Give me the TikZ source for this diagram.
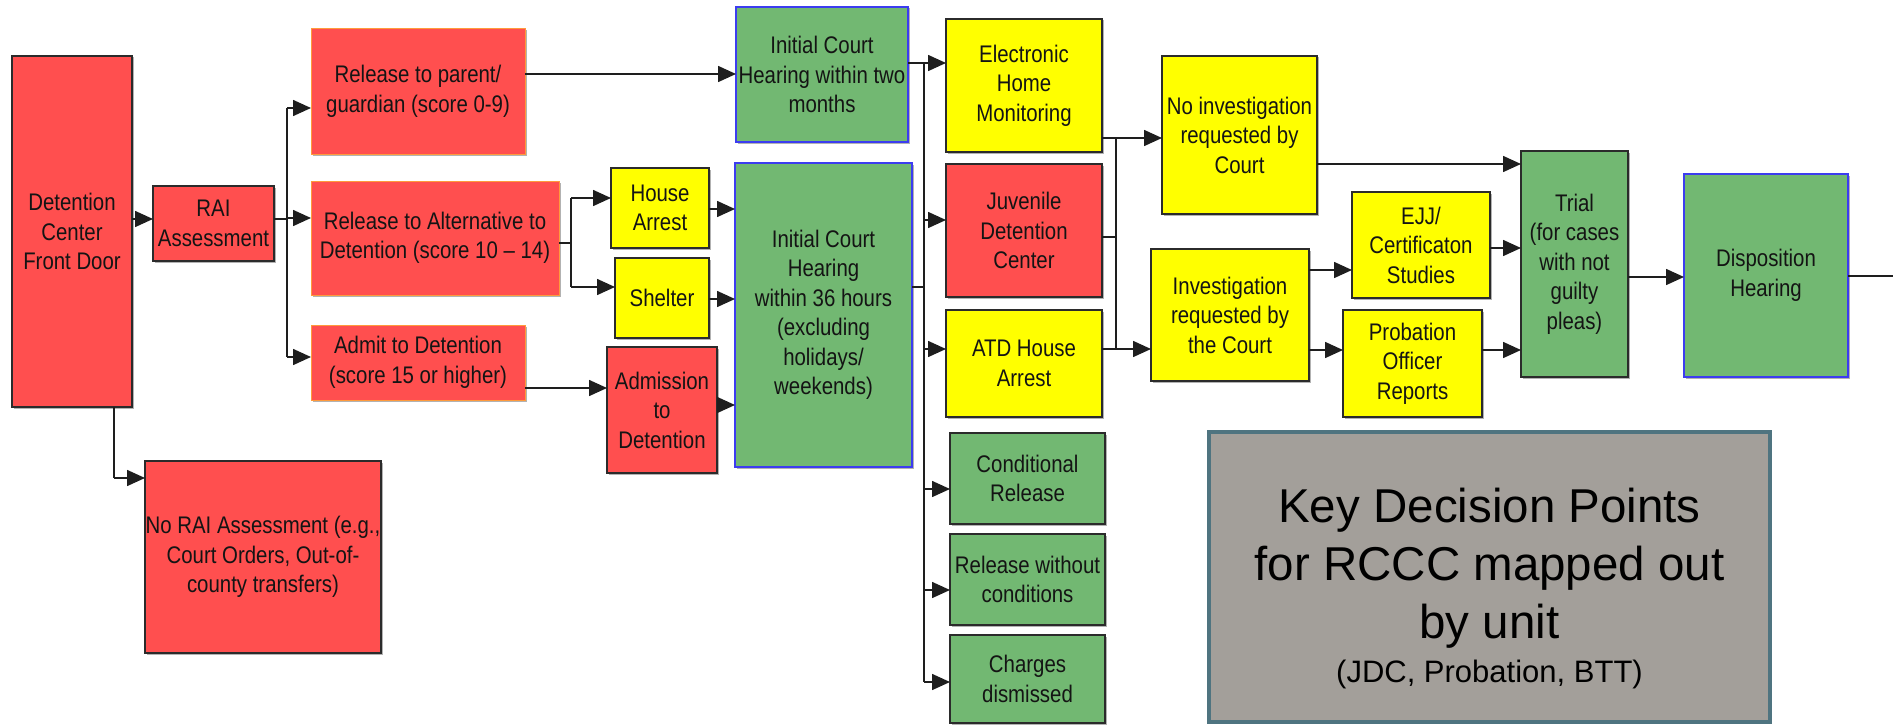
\documentclass[tikz,border=0pt]{standalone}
\usepackage{fontspec}
\setmainfont{Liberation Sans}[FakeStretch=0.85]
\newfontfamily\keyfont{Liberation Sans}
\usetikzlibrary{arrows.meta,shadows}
\definecolor{cred}{HTML}{FF4F4F}
\definecolor{cyel}{HTML}{FFFF00}
\definecolor{cgrn}{HTML}{72B872}
\definecolor{cgray}{HTML}{A39F9A}
\definecolor{ckeyb}{HTML}{4F7480}
\definecolor{corng}{HTML}{FF9A3C}
\definecolor{cblue}{HTML}{3C3CF0}
\definecolor{cdark}{HTML}{2B2B2B}
\definecolor{cline}{HTML}{1E1E1E}
\begin{document}
\begin{tikzpicture}[x=1pt,y=-1pt,
  box/.style={draw=cdark, line width=1.5pt, inner sep=0pt, outer sep=0pt,
    align=center, font=\fontsize{24}{29.5}\selectfont, text=black!92,
    drop shadow={shadow xshift=1.5pt, shadow yshift=-1.5pt, opacity=0.3, fill=black}},
  redbox/.style={box, fill=cred},
  redobox/.style={box, fill=cred, draw=corng, line width=1pt},
  yelbox/.style={box, fill=cyel},
  grnbox/.style={box, fill=cgrn},
  grnbbox/.style={box, fill=cgrn, draw=cblue, line width=1.3pt},
  keybox/.style={draw=ckeyb, line width=4pt, fill=cgray, inner sep=0pt, outer sep=0pt, align=center,
    font=\keyfont\fontsize{47.5}{58}\selectfont},
  arr/.style={draw=cline, line width=1.6pt, -{Triangle[length=18pt,width=16pt]}},
  ln/.style={draw=cline, line width=1.6pt}
]
\useasboundingbox[fill=white] (0,0) rectangle (1893,725);

% nodes
\node[redbox, minimum width=120pt, minimum height=351pt] (fd) at (72,231.5) {Detention\\Center\\Front Door};
\node[redbox, minimum width=121pt, minimum height=75pt] (rai) at (213.5,223.5) {RAI\\Assessment};
\node[redobox, minimum width=214pt, minimum height=125pt] (rp) at (418,91.5) {Release to parent/\\guardian (score 0-9)};
\node[redobox, minimum width=248pt, minimum height=114pt] (ratd) at (435,238) {Release to Alternative to\\Detention (score 10 – 14)};
\node[redobox, minimum width=214pt, minimum height=75pt] (adm) at (418,362.5) {Admit to Detention\\(score 15 or higher)};
\node[yelbox, minimum width=98pt, minimum height=80pt] (ha) at (660,208) {House\\Arrest};
\node[yelbox, minimum width=94pt, minimum height=80pt] (sh) at (662,298) {Shelter};
\node[redbox, minimum width=110pt, minimum height=126pt] (ad2) at (662,410) {Admission\\to\\Detention};
\node[redbox, minimum width=236pt, minimum height=192pt] (nrai) at (263,557) {No RAI Assessment (e.g.,\\Court Orders, Out-of-\\county transfers)};
\node[grnbbox, minimum width=172pt, minimum height=135pt] (ich2) at (822,74.5) {Initial Court\\Hearing within two\\months};
\node[grnbbox, minimum width=177pt, minimum height=304pt] (ich36) at (823.5,315) {Initial Court\\Hearing\\within 36 hours\\(excluding\\holidays/\\weekends)};
\node[yelbox, minimum width=156pt, minimum height=133pt] (ehm) at (1024,85.5) {Electronic\\Home\\Monitoring};
\node[redbox, minimum width=156pt, minimum height=133pt] (jdc) at (1024,230.5) {Juvenile\\Detention\\Center};
\node[yelbox, minimum width=156pt, minimum height=107pt] (atdh) at (1024,363.5) {ATD House\\Arrest};
\node[grnbox, minimum width=155pt, minimum height=91pt] (cr) at (1027.5,478.5) {Conditional\\Release};
\node[grnbox, minimum width=155pt, minimum height=91pt] (rw) at (1027.5,579.5) {Release without\\conditions};
\node[grnbox, minimum width=155pt, minimum height=88pt] (cd) at (1027.5,679) {Charges\\dismissed};
\node[yelbox, minimum width=155pt, minimum height=158pt] (noinv) at (1239.5,135) {No investigation\\requested by\\Court};
\node[yelbox, minimum width=158pt, minimum height=132pt] (inv) at (1230,315) {Investigation\\requested by\\the Court};
\node[yelbox, minimum width=138pt, minimum height=106pt] (ejj) at (1421,245) {EJJ/\\Certificaton\\Studies};
\node[yelbox, minimum width=139pt, minimum height=107pt] (po) at (1412.5,363.5) {Probation\\Officer\\Reports};
\node[grnbox, minimum width=107pt, minimum height=226pt] (trial) at (1574.5,264) {Trial\\(for cases\\with not\\guilty\\pleas)};
\node[grnbbox, minimum width=164pt, minimum height=203pt] (disp) at (1766,275.5) {Disposition\\Hearing};
\node[keybox, minimum width=561pt, minimum height=290pt] (key) at (1489.5,577) {\rule{0pt}{58pt}Key Decision Points\\for RCCC mapped out\\by unit\\[-14pt]{\fontsize{31}{40}\selectfont (JDC, Probation, BTT)}};

% junction coordinates
\coordinate (j1) at (287,219);
\coordinate (j2) at (571,243);
\coordinate (j3) at (924,63);
\coordinate (j4) at (1116,138);
\coordinate (exit) at (1893,276);

% connectors
\draw[arr] (fd.east |- 0,219) -- (rai.west |- 0,219);
\draw[ln] (rai.east |- j1) -- (j1);
\draw[ln] (j1 |- 0,108) -- (j1 |- 0,357);
\draw[arr] (j1 |- 0,108) -- (rp.west |- 0,108);
\draw[arr] (j1 |- 0,218) -- (ratd.west |- 0,218);
\draw[arr] (j1 |- 0,357) -- (adm.west |- 0,357);

\draw[arr] (rp.east |- 0,74) -- (ich2.west |- 0,74);

\draw[ln] (ratd.east |- j2) -- (j2);
\draw[ln] (j2 |- 0,198) -- (j2 |- 0,287);
\draw[arr] (j2 |- 0,198) -- (ha.west |- 0,198);
\draw[arr] (j2 |- 0,287) -- (sh.west |- 0,287);

\draw[arr] (adm.east |- 0,388) -- (ad2.west |- 0,388);

\draw[arr] (ha.east |- 0,209) -- (ich36.west |- 0,209);
\draw[arr] (sh.east |- 0,299) -- (ich36.west |- 0,299);
\draw[arr] (ad2.east |- 0,405) -- (ich36.west |- 0,405);

\draw[ln] (ich2.east |- j3) -- (j3);
\draw[ln] (j3) -- (j3 |- 0,682);
\draw[ln] (ich36.east |- 0,287) -- (j3 |- 0,287);
\draw[arr] (j3) -- (ehm.west |- j3);
\draw[arr] (j3 |- 0,220) -- (jdc.west |- 0,220);
\draw[arr] (j3 |- 0,349) -- (atdh.west |- 0,349);
\draw[arr] (j3 |- 0,489) -- (cr.west |- 0,489);
\draw[arr] (j3 |- 0,590) -- (rw.west |- 0,590);
\draw[arr] (j3 |- 0,682) -- (cd.west |- 0,682);

\draw[ln] (ehm.east |- j4) -- (j4);
\draw[ln] (jdc.east |- 0,237) -- (j4 |- 0,237);
\draw[ln] (atdh.east |- 0,349) -- (j4 |- 0,349);
\draw[ln] (j4) -- (j4 |- 0,349);
\draw[arr] (j4) -- (noinv.west |- j4);
\draw[arr] (j4 |- 0,349) -- (inv.west |- 0,349);

\draw[arr] (noinv.east |- 0,164) -- (trial.west |- 0,164);
\draw[arr] (inv.east |- 0,270) -- (ejj.west |- 0,270);
\draw[arr] (inv.east |- 0,350) -- (po.west |- 0,350);
\draw[arr] (ejj.east |- 0,248) -- (trial.west |- 0,248);
\draw[arr] (po.east |- 0,350) -- (trial.west |- 0,350);
\draw[arr] (trial.east |- 0,277) -- (disp.west |- 0,277);
\draw[ln] (disp.east |- exit) -- (exit);

\draw[ln] (fd.south -| 114,0) -- (114,478);
\draw[arr] (114,478) -- (nrai.west |- 0,478);
\end{tikzpicture}
\end{document}
